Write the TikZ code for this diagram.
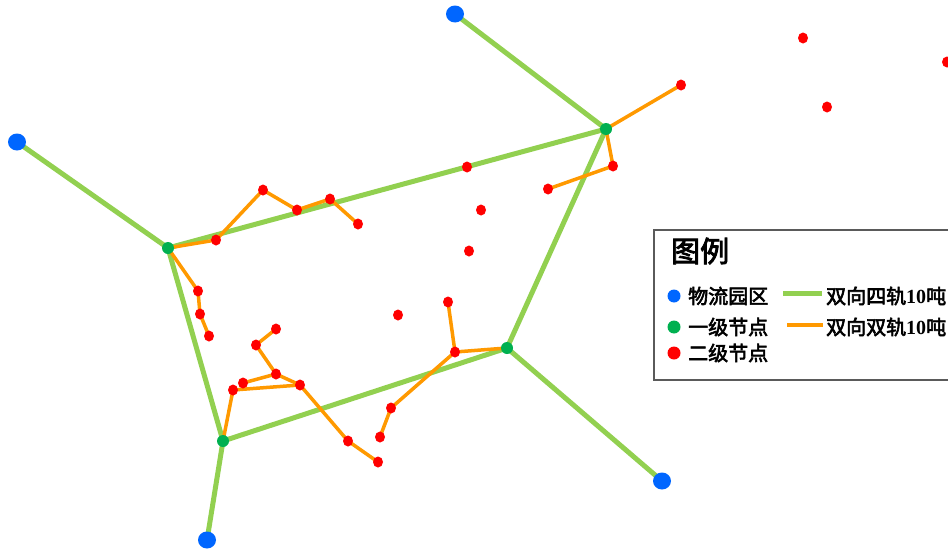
\documentclass[tikz,border=0pt]{standalone}
\usepackage{fontspec}
\newfontfamily\cjk{Noto Sans CJK SC}[AutoFakeBold=3]
\newfontfamily\digitfont{Liberation Serif}
\usetikzlibrary{shapes.geometric}
\definecolor{parkblue}{RGB}{0,102,255}
\definecolor{nodegreen}{RGB}{0,176,80}
\definecolor{linegreen}{RGB}{146,208,80}
\definecolor{lineorange}{RGB}{255,153,0}
\definecolor{dotred}{RGB}{255,0,0}
\definecolor{framegray}{RGB}{90,90,90}
\pgfdeclarelayer{bg}
\pgfsetlayers{bg,main}
\tikzset{
  park/.style={ellipse, fill=parkblue, inner sep=0pt, minimum width=18pt, minimum height=17pt},
  hub/.style={circle, fill=nodegreen, inner sep=0pt, minimum size=12pt},
  sub/.style={ellipse, fill=dotred, inner sep=0pt, minimum width=10pt, minimum height=11pt},
  fourtrack/.style={draw=linegreen, line width=5pt},
  twotrack/.style={draw=lineorange, line width=3.5pt},
  legtext/.style={anchor=west, inner sep=0pt, font=\cjk\bfseries\fontsize{20}{20}\selectfont},
  legdot/.style={circle, inner sep=0pt, minimum size=13pt}
}
\begin{document}
\begin{tikzpicture}[x=1pt,y=-1pt]
\useasboundingbox (0,0) rectangle (948,554);
% logistics parks
\node[park] (B1) at (455,14) {};
\node[park] (B2) at (17,142) {};
\node[park] (B3) at (662,481) {};
\node[park] (B4) at (207,540) {};
% first-level nodes
\node[hub] (G1) at (168,248) {};
\node[hub] (G2) at (606,129) {};
\node[hub] (G3) at (507,348) {};
\node[hub] (G4) at (223,441) {};
% second-level nodes
\node[sub] (r1) at (681,85) {};
\node[sub] (r2) at (803,38) {};
\node[sub] (r3) at (947,62) {};
\node[sub] (r4) at (827,107) {};
\node[sub] (r5) at (613,166) {};
\node[sub] (r6) at (548,189) {};
\node[sub] (r7) at (467,167) {};
\node[sub] (r8) at (481,210) {};
\node[sub] (r9) at (469,251) {};
\node[sub] (r10) at (216,240) {};
\node[sub] (r11) at (263,190) {};
\node[sub] (r12) at (297,210) {};
\node[sub] (r13) at (330,199) {};
\node[sub] (r14) at (358,224) {};
\node[sub] (r15) at (198,291) {};
\node[sub] (r16) at (200,314) {};
\node[sub] (r17) at (209,336) {};
\node[sub] (r18) at (276,329) {};
\node[sub] (r19) at (256,345) {};
\node[sub] (r20) at (276,374) {};
\node[sub] (r21) at (243,383) {};
\node[sub] (r22) at (233,390) {};
\node[sub] (r23) at (300,385) {};
\node[sub] (r24) at (348,441) {};
\node[sub] (r25) at (378,462) {};
\node[sub] (r26) at (398,315) {};
\node[sub] (r27) at (448,302) {};
\node[sub] (r28) at (455,352) {};
\node[sub] (r29) at (391,408) {};
\node[sub] (r30) at (380,437) {};
\begin{pgfonlayer}{bg}
  % four-track lines
  \draw[fourtrack] (B1.center) -- (G2.center);
  \draw[fourtrack] (B2.center) -- (G1.center);
  \draw[fourtrack] (G1.center) -- (G2.center);
  \draw[fourtrack] (G1.center) -- (G4.center);
  \draw[fourtrack] (G2.center) -- (G3.center);
  \draw[fourtrack] (G3.center) -- (G4.center);
  \draw[fourtrack] (G3.center) -- (B3.center);
  \draw[fourtrack] (G4.center) -- (B4.center);
  % two-track lines
  \draw[twotrack] (G2.center) -- (r1.center);
  \draw[twotrack] (G2.center) -- (r5.center) -- (r6.center);
  \draw[twotrack] (G1.center) -- (r10.center) -- (r11.center) -- (r12.center) -- (r13.center) -- (r14.center);
  \draw[twotrack] (G1.center) -- (r15.center) -- (r16.center) -- (r17.center);
  \draw[twotrack] (r18.center) -- (r19.center) -- (r20.center) -- (r23.center) -- (r24.center) -- (r25.center);
  \draw[twotrack] (r21.center) -- (r20.center);
  \draw[twotrack] (G4.center) -- (r22.center) -- (r23.center);
  \draw[twotrack] (r27.center) -- (r28.center) -- (G3.center);
  \draw[twotrack] (r28.center) -- (r29.center) -- (r30.center);
\end{pgfonlayer}
% legend
\node[draw=framegray, line width=2pt, inner sep=0pt, minimum width=310pt, minimum height=150pt, anchor=north west] (legbox) at (653,229) {};
\node[anchor=west, inner sep=0pt, font=\cjk\bfseries\fontsize{29}{29}\selectfont] (legtitle) at (671,251) {图例};
\node[legdot, fill=parkblue] (ld1) at (674,296) {};
\node[legdot, fill=nodegreen] (ld2) at (674,327) {};
\node[legdot, fill=dotred] (ld3) at (674,353) {};
\node[legtext] (lt1) at (688,296) {物流园区};
\node[legtext] (lt2) at (688,327) {一级节点};
\node[legtext] (lt3) at (688,353) {二级节点};
\coordinate (la1) at (783,293);
\coordinate (la2) at (822,293);
\coordinate (lb1) at (787,325);
\coordinate (lb2) at (823,325);
\draw[fourtrack] (la1) -- (la2);
\draw[twotrack] (lb1) -- (lb2);
\node[legtext] (lt4) at (826,296) {双向四轨{\digitfont\bfseries 10}吨};
\node[legtext] (lt5) at (826,327) {双向双轨{\digitfont\bfseries 10}吨};
\end{tikzpicture}
\end{document}
